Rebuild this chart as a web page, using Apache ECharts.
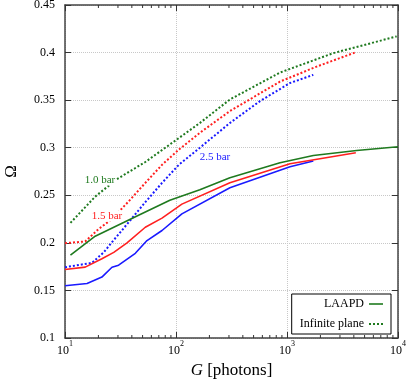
<!DOCTYPE html>
<html>
<head>
<meta charset="utf-8">
<script src="https://cdn.jsdelivr.net/npm/echarts@6/dist/echarts.min.js"></script>
<style>
  html, body { margin: 0; padding: 0; background: #fff; }
  #Chart { width: 407px; height: 381px; }
</style>
</head>
<body>
<div id="Chart"></div>
<script>
// [G photons, Omega]
var laapd10 = [[11.2, 0.187], [18.7, 0.207], [46, 0.229], [88, 0.2448], [164, 0.2557], [306, 0.2685], [865, 0.2842], [1726, 0.2919], [4240, 0.297], [10000, 0.301]];
var laapd15 = [[10, 0.172], [15.2, 0.1745], [21.5, 0.1833], [27.5, 0.19], [36.2, 0.2], [52.9, 0.2164], [74.8, 0.226], [113, 0.2407], [306, 0.2632], [1064, 0.2832], [4170, 0.2947]];
var laapd25 = [[10, 0.155], [15.8, 0.1573], [21.5, 0.164], [26.5, 0.1744], [30.4, 0.1765], [43, 0.189], [54.8, 0.2024], [74.8, 0.213], [113, 0.2305], [306, 0.258], [1064, 0.28], [1726, 0.2861]];
var plane10 = [[11.2, 0.221], [18.7, 0.2486], [29.4, 0.267], [52.9, 0.285], [100, 0.308], [164, 0.326], [306, 0.3507], [865, 0.379], [2612, 0.3994], [9730, 0.417]];
var plane15 = [[10, 0.1997], [15.2, 0.2014], [20.1, 0.2146], [26.5, 0.225], [37.5, 0.2437], [52.9, 0.263], [74.8, 0.282], [106, 0.298], [164, 0.3157], [306, 0.3385], [865, 0.3695], [1854, 0.3853], [4100, 0.40]];
var plane25 = [[10, 0.1744], [17.5, 0.179], [22.3, 0.19], [26.5, 0.2007], [37.5, 0.2217], [52.9, 0.2428], [74.8, 0.263], [106, 0.282], [164, 0.30], [306, 0.326], [571, 0.349], [1064, 0.368], [1726, 0.3766]];

var legendNames = ['LAAPD', 'Infinite plane'];
var barLabels = ['1.0 bar', '1.5 bar', '2.5 bar'];

// minor ticks of the log axis (2..9 of each decade)
var minorTicks = [];
[10, 100, 1000].forEach(function (d) {
  for (var k = 2; k <= 9; k++) minorTicks.push([k * d, 0.1]);
});

var GREEN = '#1f7a1f', RED = '#ff2020', BLUE = '#1a1aff';
var FONT = 'Liberation Serif';

function solid(name, data, color) {
  return {
    name: name, type: 'line', data: data, symbol: 'none', silent: true,
    lineStyle: { color: color, width: 1.6 }, itemStyle: { color: color }
  };
}
function dotted(name, data, color) {
  return {
    name: name, type: 'line', data: data, symbol: 'none', silent: true,
    lineStyle: { color: color, width: 2, type: [2, 2] }, itemStyle: { color: color }
  };
}
function barText(text, x, y, color) {
  return {
    type: 'text', x: x, y: y, z: 100,
    style: {
      text: text, fill: color, font: '11px "Liberation Serif"',
      align: 'center', verticalAlign: 'middle',
      backgroundColor: '#fff', padding: [0, 1]
    }
  };
}

var myChart = echarts.init(document.getElementById('Chart'));
var option = {
  animation: false,
  grid: { left: 65, right: 9, top: 5, bottom: 43, outerBoundsMode: 'none' },
  legend: {
    data: [
      { name: legendNames[0], icon: 'path://M0,0H14V1.6H0Z' },
      { name: legendNames[1], icon: 'path://M0,0h2v2h-2zM4,0h2v2h-2zM8,0h2v2h-2zM12,0h2v2h-2z' }
    ],
    orient: 'vertical',
    align: 'right',
    right: 16,
    bottom: 47,
    itemWidth: 14,
    itemHeight: 12,
    itemGap: 8,
    padding: [4, 8, 4, 8],
    borderColor: '#000',
    borderWidth: 1,
    backgroundColor: '#fff',
    selectedMode: false,
    itemStyle: { color: GREEN },
    textStyle: { fontFamily: FONT, fontSize: 12, color: '#000' }
  },
  xAxis: [{
    type: 'log', logBase: 10, min: 10, max: 10000,
    name: '{i|G} [photons]',
    nameLocation: 'middle', nameGap: 18,
    nameTextStyle: {
      fontFamily: FONT, fontSize: 17, color: '#000',
      rich: { i: { fontFamily: FONT, fontSize: 17, fontStyle: 'italic', color: '#000' } }
    },
    axisLine: { lineStyle: { color: '#444', width: 1.5 } },
    axisTick: { inside: true, length: 6, lineStyle: { color: '#333' } },
    axisLabel: {
      margin: 2,
      formatter: function (v) { return '{b|10}{sup|' + Math.round(Math.log10(v)) + '}'; },
      rich: {
        b: { fontFamily: FONT, fontSize: 12, color: '#000', lineHeight: 17, verticalAlign: 'bottom' },
        sup: { fontFamily: FONT, fontSize: 8, color: '#000', lineHeight: 17, verticalAlign: 'top' }
      }
    },
    splitLine: { show: true, lineStyle: { color: '#c8c8c8', type: 'dotted', width: 1 } }
  }, {
    type: 'log', logBase: 10, min: 10, max: 10000, position: 'top',
    axisLine: { lineStyle: { color: '#444', width: 1.5 } },
    axisTick: { inside: true, length: 6, lineStyle: { color: '#333' } },
    axisLabel: { show: false },
    splitLine: { show: false }
  }],
  yAxis: [{
    type: 'value', min: 0.1, max: 0.45, interval: 0.05,
    name: 'Ω', nameLocation: 'middle', nameGap: 45, nameRotate: 90,
    nameTextStyle: { fontFamily: FONT, fontSize: 17, color: '#000' },
    axisLine: { show: true, lineStyle: { color: '#444', width: 1.5 } },
    axisTick: { show: true, inside: true, length: 6, lineStyle: { color: '#333' } },
    axisLabel: { fontFamily: FONT, fontSize: 12, color: '#000', margin: 10 },
    splitLine: { show: true, lineStyle: { color: '#c8c8c8', type: 'dotted', width: 1 } }
  }, {
    type: 'value', min: 0.1, max: 0.45, interval: 0.05, position: 'right',
    axisLine: { show: true, lineStyle: { color: '#444', width: 1.5 } },
    axisTick: { show: true, inside: true, length: 6, lineStyle: { color: '#333' } },
    axisLabel: { show: false },
    splitLine: { show: false }
  }],
  graphic: [
    barText(barLabels[0], 100, 180, GREEN),
    barText(barLabels[1], 107, 216, RED),
    barText(barLabels[2], 215, 157, BLUE)
  ],
  series: [
    dotted('plane 1.0', plane10, GREEN),
    dotted('plane 1.5', plane15, RED),
    dotted('plane 2.5', plane25, BLUE),
    solid('laapd 2.5', laapd25, BLUE),
    solid('laapd 1.5', laapd15, RED),
    solid('laapd 1.0', laapd10, GREEN),
    solid(legendNames[0], [], GREEN),
    dotted(legendNames[1], [], GREEN),
    {
      type: 'custom', silent: true, clip: false, z: 5,
      data: minorTicks,
      encode: { x: 0, y: 1 },
      renderItem: function (params, api) {
        var v = api.value(0);
        var b = api.coord([v, 0.1]);
        var t = api.coord([v, 0.45]);
        return {
          type: 'group',
          children: [
            { type: 'line', shape: { x1: b[0], y1: b[1], x2: b[0], y2: b[1] - 3 }, style: { stroke: '#333', lineWidth: 1 } },
            { type: 'line', shape: { x1: t[0], y1: t[1], x2: t[0], y2: t[1] + 3 }, style: { stroke: '#333', lineWidth: 1 } }
          ]
        };
      }
    }
  ]
};
myChart.setOption(option);
window.addEventListener('resize', function () {
  myChart.resize();
});
</script>
</body>
</html>
